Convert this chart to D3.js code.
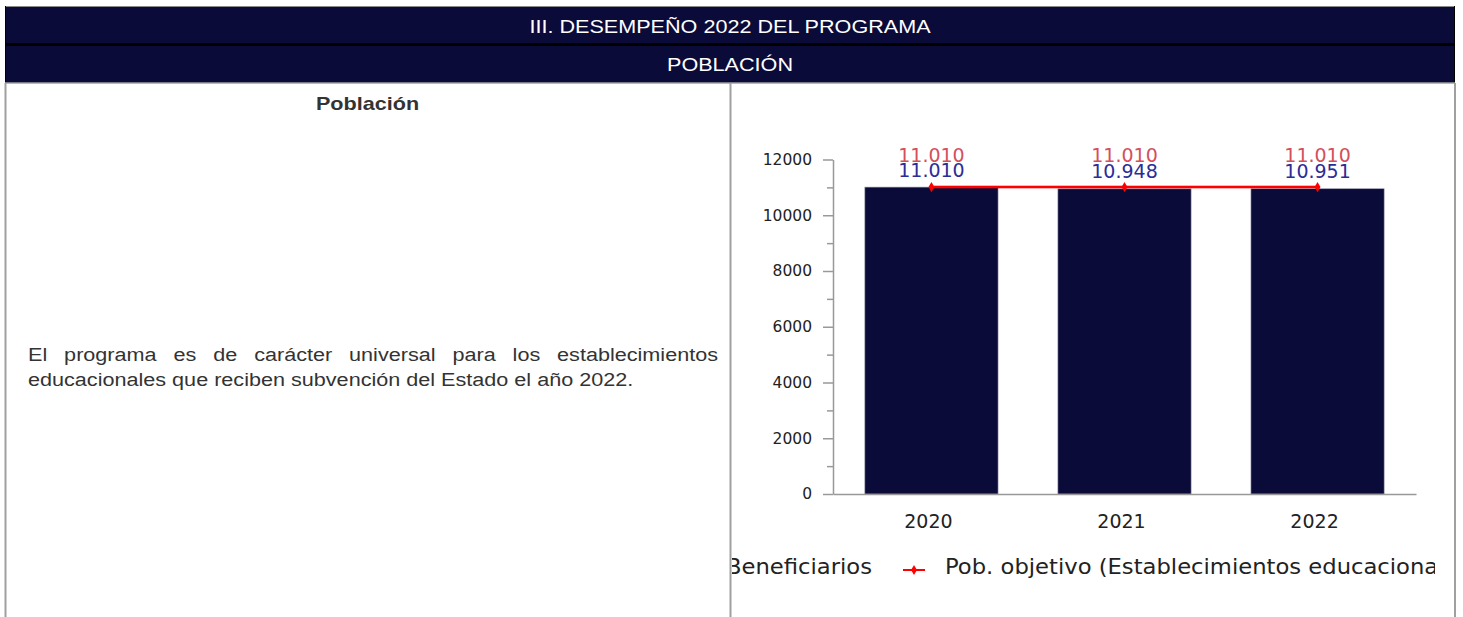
<!DOCTYPE html>
<html>
<head>
<meta charset="utf-8">
<script src="https://cdn.jsdelivr.net/npm/d3@7"></script>
<style>
  body { margin: 0; background: #fff; }
  #page { position: relative; width: 1463px; height: 617px; overflow: hidden; }
  #page svg { position: absolute; left: 0; top: 0; }
  .parrafo {
    position: absolute; left: 28px; top: 343px; width: 575px;
    font: 18px "Liberation Sans", Arial, sans-serif; line-height: 25px;
    color: #333; text-align: justify;
    transform: scaleX(1.2); transform-origin: 0 0;
  }
</style>
</head>
<body>
<div id="page">
  <div class="parrafo">El programa es de carácter universal para los establecimientos educacionales que reciben subvención del Estado el año 2022.</div>
</div>
<script>
// data
const years = ["2020", "2021", "2022"];
const beneficiarios = [11010, 10948, 10951];
const poblacionObjetivo = [11010, 11010, 11010];
const yMajorTicks = [0, 2000, 4000, 6000, 8000, 10000, 12000];
const yMinorTicks = [1000, 3000, 5000, 7000, 9000, 11000];
const headerTitles = ["III. DESEMPEÑO 2022 DEL PROGRAMA", "POBLACIÓN"];
const legendLabels = ["Beneficiarios", "Pob. objetivo (Establecimientos educacionales)"];

const NAVY = '#0b0b3a';
const W = 1463, H = 617;
const fmt = d3.formatLocale({decimal: ",", thousands: ".", grouping: [3], currency: ["$", ""]}).format(",d");

const svg = d3.select("#page").insert("svg", ":first-child")
    .attr("width", W)
    .attr("height", H);

// header bands
svg.append("rect").attr("x", 5).attr("y", 6).attr("width", 1450).attr("height", 77).attr("fill", NAVY);
svg.append("line").attr("x1", 5).attr("x2", 1455).attr("y1", 6.5).attr("y2", 6.5).attr("stroke", "#8a8a8a");
svg.append("rect").attr("x", 5).attr("y", 43).attr("width", 1450).attr("height", 3).attr("fill", "#000");
svg.append("line").attr("x1", 5.5).attr("x2", 5.5).attr("y1", 6).attr("y2", 83).attr("stroke", "#000");
svg.append("line").attr("x1", 1454.5).attr("x2", 1454.5).attr("y1", 6).attr("y2", 83).attr("stroke", "#000");
svg.append("line").attr("x1", 5).attr("x2", 1455).attr("y1", 83).attr("y2", 83).attr("stroke", "#a0a0a0").attr("stroke-width", 1.5);

svg.selectAll(".header-title")
    .data(headerTitles)
    .enter()
    .append("text")
    .attr("class", "header-title")
    .attr("transform", (d, i) => `translate(730,${i === 0 ? 33 : 71}) scale(1.2,1)`)
    .attr("text-anchor", "middle")
    .attr("fill", "#fff")
    .style("font", '18px "Liberation Sans", Arial, sans-serif')
    .text((d) => d);

// cell borders
[5.5, 730.5, 1455].forEach((x) => {
  svg.append("line")
      .attr("x1", x).attr("x2", x).attr("y1", 83).attr("y2", H)
      .attr("stroke", "#a0a0a0").attr("stroke-width", 2);
});

svg.append("text")
    .attr("transform", "translate(367.5,110) scale(1.2,1)")
    .attr("text-anchor", "middle")
    .attr("fill", "#333")
    .style("font", 'bold 18px "Liberation Sans", Arial, sans-serif')
    .text("Población");

// chart
svg.append("clipPath").attr("id", "chart-clip")
    .append("rect").attr("x", 732).attr("y", 84).attr("width", 703).attr("height", 533);

const chart = svg.append("g").attr("clip-path", "url(#chart-clip)");

const x = d3.scaleBand().domain(years).range([833, 1416]).paddingInner(0.31).paddingOuter(0.165);
const y = d3.scaleLinear().domain([0, 12000]).range([494, 159.5]);

// bars
chart.selectAll(".bar")
    .data(years)
    .enter()
    .append("rect")
    .attr("class", "bar")
    .attr("x", (d) => x(d))
    .attr("y", (d, i) => y(beneficiarios[i]))
    .attr("width", x.bandwidth())
    .attr("height", (d, i) => y(0) - y(beneficiarios[i]))
    .attr("fill", NAVY)
    .attr("stroke", "#9a9ab0")
    .attr("stroke-width", 0.6);

// axes
const yAxis = chart.append("g")
    .attr("transform", `translate(${x.range()[0]},0)`)
    .call(d3.axisLeft(y).tickValues(yMajorTicks).tickSize(10).tickSizeOuter(0).tickPadding(11).tickFormat(d3.format("d")));
yAxis.selectAll("text").style("font", '15.5px "DejaVu Sans", sans-serif').attr("fill", "#222");

const yMinor = chart.append("g")
    .attr("transform", `translate(${x.range()[0]},0)`)
    .call(d3.axisLeft(y).tickValues(yMinorTicks).tickSize(6).tickFormat(""));
yMinor.select(".domain").remove();

const xAxis = chart.append("g")
    .attr("transform", `translate(0,${y(0)})`)
    .call(d3.axisBottom(x).tickSize(0).tickPadding(20.5));
xAxis.selectAll("text").style("font", '19px "DejaVu Sans", sans-serif').attr("fill", "#222").attr("dx", -3);

chart.selectAll(".domain, .tick line").attr("stroke", "#999").attr("stroke-width", 1.5);

// target population line
const cx = (d) => x(d) + x.bandwidth() / 2;
const linePts = years.map((d, i) => [cx(d), y(poblacionObjetivo[i])]);

chart.append("path")
    .attr("d", d3.line()(linePts))
    .attr("fill", "none")
    .attr("stroke", "rgba(255,0,0,0.3)")
    .attr("stroke-width", 4);
chart.append("path")
    .attr("d", d3.line()(linePts))
    .attr("fill", "none")
    .attr("stroke", "#ff0000")
    .attr("stroke-width", 2);

chart.selectAll(".marker")
    .data(linePts)
    .enter()
    .append("path")
    .attr("class", "marker")
    .attr("transform", (d) => `translate(${d[0]},${d[1]})`)
    .attr("d", d3.symbol(d3.symbolDiamond, 30))
    .attr("fill", "#ff0000");

// value labels
chart.selectAll(".label-obj")
    .data(years)
    .enter()
    .append("text")
    .attr("x", cx)
    .attr("y", (d, i) => y(poblacionObjetivo[i]) - 25)
    .attr("text-anchor", "middle")
    .attr("fill", "#d4505c")
    .style("font", '19px "DejaVu Sans", sans-serif')
    .text((d, i) => fmt(poblacionObjetivo[i]));

chart.selectAll(".label-ben")
    .data(years)
    .enter()
    .append("text")
    .attr("x", cx)
    .attr("y", (d, i) => y(beneficiarios[i]) - 10.5)
    .attr("text-anchor", "middle")
    .attr("fill", "#2c2c96")
    .style("font", '19px "DejaVu Sans", sans-serif')
    .text((d, i) => fmt(beneficiarios[i]));

// legend (text a bit wider than the font, like the reference)
const legend = chart.append("g").attr("transform", "translate(0,574)");

const benText = legend.append("text")
    .attr("transform", "translate(872,0) scale(1.08,1)")
    .attr("text-anchor", "end")
    .attr("fill", "#222")
    .style("font", '21px "DejaVu Sans", sans-serif')
    .text(legendLabels[0]);
const benW = benText.node().getComputedTextLength() * 1.08;
legend.append("rect")
    .attr("x", 872 - benW - 24)
    .attr("y", -16)
    .attr("width", 16)
    .attr("height", 16)
    .attr("fill", NAVY);

legend.append("line")
    .attr("x1", 903).attr("x2", 925).attr("y1", -4).attr("y2", -4)
    .attr("stroke", "#ff0000").attr("stroke-width", 2);
legend.append("path")
    .attr("transform", "translate(914,-4)")
    .attr("d", d3.symbol(d3.symbolDiamond, 30))
    .attr("fill", "#ff0000");
legend.append("text")
    .attr("transform", "translate(945,0) scale(1.08,1)")
    .attr("fill", "#222")
    .style("font", '21px "DejaVu Sans", sans-serif')
    .text(legendLabels[1]);
</script>
</body>
</html>
